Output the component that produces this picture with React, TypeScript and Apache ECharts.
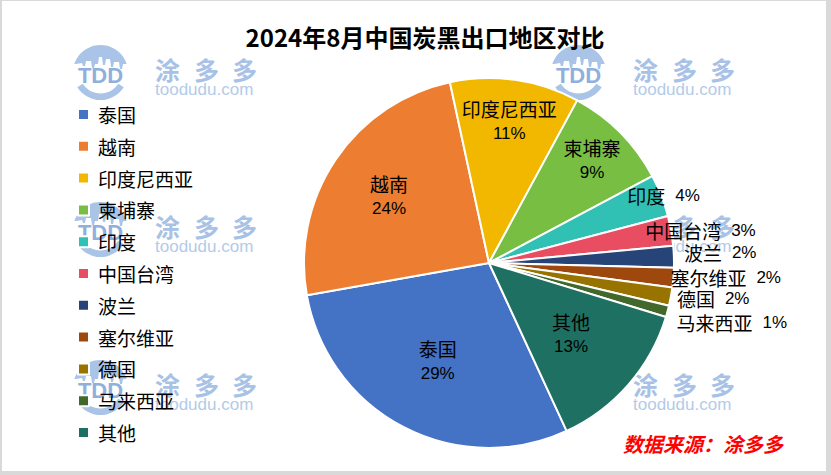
import React, { useEffect, useRef } from "react";
import * as echarts from "echarts";

// ---- data ----
const categories = ["泰国", "越南", "印度尼西亚", "柬埔寨", "印度", "中国台湾", "波兰", "塞尔维亚", "德国", "马来西亚", "其他"];
const shares = [29.1, 24.4, 11.3, 9.3, 3.7, 2.6, 1.9, 1.7, 1.6, 1.0, 13.4];
const sliceColors = ["#4472C4", "#ED7D31", "#F2B800", "#78BE43", "#30C1B4", "#E84D61", "#264478", "#9E480E", "#997300", "#43682B", "#1E7063"];
const titleText = "2024年8月中国炭黑出口地区对比";
const sourceText = "数据来源：涂多多";
const watermarkChars = ["涂", "多", "多"];
const watermarkUrl = "toodudu.com";

// ---- label styling (not data) ----
const outsideLabel = [false, false, false, false, true, true, true, true, true, true, false];
const insideRadius = [0.58, 0.63, 0.75, 0.76, 0, 0, 0, 0, 0, 0, 0.57];
const outsideShift: number[][] = [[0, 0], [0, 0], [0, 0], [0, 0], [-39, 0], [-31, 0], [5, -4.5], [-8, 0], [1, 1.6], [4, 11], [0, 0]];

const CJK = '"Noto Sans CJK SC", "Noto Sans", sans-serif';
const LAT = '"Liberation Sans", Arial, sans-serif';
const PIE_CX = 489;
const PIE_CY = 263;
const PIE_R = 185;

const WM_BLUE = "#a9c4e7";
const WM_TEXT = "#a7c2e6";

function domePoints(): number[][] {
  const pts: number[][] = [];
  const c = 27.5;
  const R = 27.5;
  for (let a = 198; a <= 342; a += 6) {
    const r = (a * Math.PI) / 180;
    pts.push([c + R * Math.cos(r), c + R * Math.sin(r)]);
  }
  const bottom = [
    [53, 19], [50, 19], [49, 24], [47, 24], [46, 17], [41, 17], [40, 22], [38, 22], [37, 14], [33, 14],
    [32, 20], [30, 20], [29, 12], [26, 12], [25, 19], [22, 19], [21, 23], [19, 23], [18, 16], [13, 16],
    [12, 21], [10, 21], [9, 18], [3, 19],
  ];
  return pts.concat(bottom);
}

const charOffsets = [82, 121, 159];

function watermark(gx: number, gy: number) {
  return {
    type: "group",
    x: gx,
    y: gy,
    z: 0,
    silent: true,
    children: [
      { type: "polygon", shape: { points: domePoints() }, style: { fill: WM_BLUE } },
      {
        type: "sector",
        shape: { cx: 27.5, cy: 27.5, r: 27.5, r0: 21, startAngle: Math.PI * 0.18, endAngle: Math.PI * 0.82, clockwise: true },
        style: { fill: WM_BLUE },
      },
      {
        type: "text",
        x: 27.5,
        y: 30,
        style: { text: "TDD", fill: "#8fb0dd", font: `bold 22px ${LAT}`, textAlign: "center", textVerticalAlign: "middle" },
      },
      ...watermarkChars.map((ch, k) => ({
        type: "text",
        x: charOffsets[k],
        y: 24,
        style: { text: ch, fill: WM_TEXT, font: `bold 25px ${CJK}`, textAlign: "left", textVerticalAlign: "middle" },
      })),
      {
        type: "text",
        x: 82,
        y: 44,
        style: { text: watermarkUrl, fill: "#b3cbe9", font: `17px ${LAT}`, textAlign: "left", textVerticalAlign: "middle" },
      },
    ],
  };
}

export default function App() {
  const ref = useRef<HTMLDivElement>(null);

  useEffect(() => {
    if (!ref.current) return;
    const chart = echarts.init(ref.current, undefined, { renderer: "svg" });

    const data = categories.map((name, i) => ({
      name,
      value: shares[i],
      itemStyle: { color: sliceColors[i] },
      label: { position: outsideLabel[i] ? "outside" : "inside" },
    }));

    const wmPositions = [
      [73, 45], [551, 45],
      [73, 202], [551, 202],
      [73, 360], [551, 360],
    ];

    chart.setOption({
      animation: false,
      backgroundColor: "#d9d9d9",
      textStyle: { fontFamily: CJK },
      legend: {
        orient: "vertical",
        left: 77,
        top: 104.5,
        padding: 0,
        itemWidth: 11,
        itemHeight: 11,
        itemGap: 11.8,
        icon: "rect",
        data: categories,
        selectedMode: false,
        textStyle: { fontSize: 19, fontFamily: CJK, color: "#000", lineHeight: 20, padding: [0, 0, 0, 4] },
      },
      graphic: {
        elements: [
          { type: "rect", z: -10, silent: true, shape: { x: 2, y: 1, width: 824, height: 470 }, style: { fill: "#ffffff" } },
          ...wmPositions.map(([x, y]) => watermark(x, y)),
          {
            type: "text",
            z: 100,
            x: 425,
            y: 36,
            style: { text: titleText, fill: "#000", font: `bold 24px ${CJK}`, textAlign: "center", textVerticalAlign: "middle" },
          },
          {
            type: "text",
            z: 100,
            x: 623,
            y: 443,
            style: { text: sourceText, fill: "#ff0000", font: `italic bold 20px ${CJK}`, textAlign: "left", textVerticalAlign: "middle" },
          },
        ],
      },
      series: [
        {
          type: "pie",
          z: 2,
          center: [PIE_CX, PIE_CY],
          radius: PIE_R,
          startAngle: 294.8,
          clockwise: true,
          avoidLabelOverlap: false,
          emphasis: { disabled: true },
          itemStyle: { borderColor: "#ffffff", borderWidth: 2 },
          labelLine: { show: false, length: 0, length2: 0 },
          label: {
            show: true,
            color: "#000",
            distanceToLabelLine: 5,
            formatter: (p: any) => {
              const pct = Math.round(p.percent);
              return outsideLabel[p.dataIndex]
                ? `{m|${p.name}}{q|${pct}%}`
                : `{n|${p.name}}\n{p|${pct}%}`;
            },
            rich: {
              n: { fontSize: 19, fontFamily: CJK, color: "#000", lineHeight: 25 },
              p: { fontSize: 17, fontFamily: LAT, color: "#000", lineHeight: 25 },
              m: { fontSize: 19, fontFamily: CJK, color: "#000", lineHeight: 20 },
              q: { fontSize: 17, fontFamily: LAT, color: "#000", lineHeight: 20, padding: [0, 0, 0, 10] },
            },
          },
          labelLayout: (params: any) => {
            const i = params.dataIndex;
            if (outsideLabel[i]) {
              return { dx: outsideShift[i][0], dy: outsideShift[i][1] };
            }
            const r = params.labelRect;
            const lx = r.x + r.width / 2;
            const ly = r.y + r.height / 2;
            const k = insideRadius[i] / 0.5 - 1;
            return { dx: (lx - PIE_CX) * k, dy: (ly - PIE_CY) * k };
          },
          data,
        },
      ],
    });

    return () => chart.dispose();
  }, []);

  return <div ref={ref} style={{ position: "absolute", left: 0, top: 0, width: 831, height: 475 }} />;
}
